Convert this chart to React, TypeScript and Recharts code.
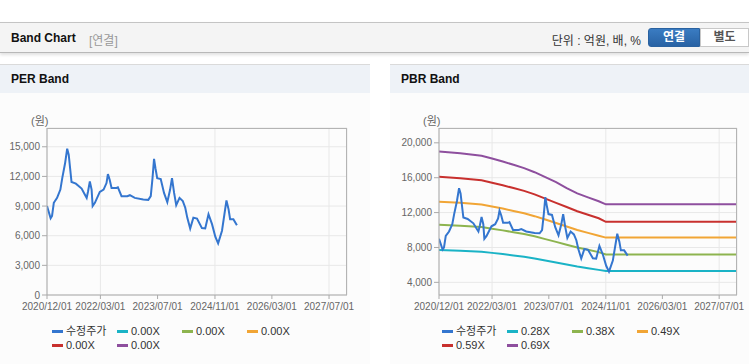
import { LineChart, Line, XAxis, YAxis, CartesianGrid } from "recharts";

// 수정주가 (price)
const priceDates = [
  "2020-12-01", "2021-01-01", "2021-01-13", "2021-01-28", "2021-02-25",
  "2021-03-25", "2021-04-10", "2021-05-04", "2021-05-22", "2021-06-04",
  "2021-06-28", "2021-08-04", "2021-09-22", "2021-10-19", "2021-11-04",
  "2021-11-16", "2021-12-01", "2021-12-16", "2021-12-25", "2022-01-13",
  "2022-02-24", "2022-03-28", "2022-04-22", "2022-05-04", "2022-05-19",
  "2022-06-04", "2022-07-16", "2022-07-28", "2022-08-28", "2022-10-16",
  "2022-11-07", "2022-12-19", "2023-03-01", "2023-04-13", "2023-05-04",
  "2023-05-19", "2023-06-01", "2023-06-13", "2023-06-28", "2023-07-28",
  "2023-08-25", "2023-09-22", "2023-10-16", "2023-11-01", "2023-11-19",
  "2023-12-07", "2024-01-04", "2024-02-01", "2024-02-22", "2024-03-10",
  "2024-04-04", "2024-05-01", "2024-06-01", "2024-07-13", "2024-08-10",
  "2024-09-07", "2024-10-07", "2024-11-04", "2024-11-28", "2024-12-31",
  "2025-02-07", "2025-02-25", "2025-03-10", "2025-04-07", "2025-05-07",
];
const prices = [
  9000, 7770, 8000, 9330, 9830, 10670, 11830, 13330, 14800, 14200,
  11430, 11270, 10770, 10170, 9830, 10500, 11500, 10670, 9000, 9330,
  10430, 10670, 11330, 12230, 11670, 10830, 10830, 10900, 10000, 10000,
  10100, 9830, 9670, 9630, 10000, 11830, 13770, 12830, 11830, 11730,
  10330, 9400, 10670, 11830, 10330, 9100, 9830, 9500, 8830, 7830,
  6730, 7830, 7730, 6770, 6730, 8170, 7170, 5900, 5230, 6500,
  9570, 8670, 7670, 7670, 7070,
];

// PBR bands
const bandDates = [
  "2020-12-01", "2021-06-01", "2021-12-01", "2022-03-01", "2022-06-01",
  "2022-09-01", "2022-12-01", "2023-03-01", "2023-06-01", "2023-09-01",
  "2023-12-01", "2024-03-01", "2024-06-01", "2024-09-01", "2024-11-01",
  "2027-12-01",
];
const pbr028 = [7700, 7620, 7510, 7380, 7240, 7080, 6930, 6740, 6510, 6280, 6040, 5810, 5620, 5430, 5300, 5300];
const pbr038 = [10600, 10490, 10340, 10150, 9960, 9750, 9540, 9280, 8960, 8640, 8320, 8000, 7740, 7470, 7190, 7190];
const pbr049 = [13250, 13120, 12920, 12690, 12460, 12190, 11930, 11590, 11200, 10800, 10400, 10000, 9670, 9340, 9130, 9130];
const pbr059 = [16100, 15940, 15700, 15420, 15130, 14810, 14490, 14090, 13600, 13120, 12640, 12160, 11750, 11350, 10940, 10940];
const pbr069 = [19000, 18800, 18520, 18200, 17860, 17480, 17100, 16630, 16060, 15490, 14800, 14200, 13750, 13300, 12950, 12950];

const xTickDates = ["2020-12-01", "2022-03-01", "2023-07-01", "2024-11-01", "2026-03-01", "2027-07-01"];
const xDomainDates = ["2020-12-01", "2027-12-01"];
const perTicks = [0, 3000, 6000, 9000, 12000, 15000];
const pbrTicks = [4000, 8000, 12000, 16000, 20000];

const perLegend = ["수정주가", "0.00X", "0.00X", "0.00X", "0.00X", "0.00X"];
const pbrLegend = ["수정주가", "0.28X", "0.38X", "0.49X", "0.59X", "0.69X"];
const colors = ["#3476cf", "#1ab3c6", "#8db44f", "#f1a535", "#c8302e", "#8e4f9e"];

const ts = (d: string) => Date.parse(d);
const priceData = priceDates.map((d, i) => ({ t: ts(d), v: prices[i] }));
const bands = [pbr028, pbr038, pbr049, pbr059, pbr069].map((arr) =>
  bandDates.map((d, i) => ({ t: ts(d), v: arr[i] }))
);

const fmtDate = (t: number) => {
  const d = new Date(t);
  const mm = String(d.getUTCMonth() + 1).padStart(2, "0");
  const dd = String(d.getUTCDate()).padStart(2, "0");
  return `${d.getUTCFullYear()}/${mm}/${dd}`;
};

const FONT = '"Liberation Sans", Arial, "Noto Sans CJK KR", sans-serif';
const TICK_FONT = '"Liberation Sans Narrow", "Liberation Sans", sans-serif';
const tickStyle = { fontSize: 10, fill: "#666", fontFamily: TICK_FONT };

interface BandProps {
  left: number;
  width: number;
  title: string;
  legend: string[];
  showBands: boolean;
  domain: [number, number];
  ticks: number[];
  marginLeft: number;
  marginRight: number;
}

function Legend({ labels, left }: { labels: string[]; left: number }) {
  return (
    <div
      style={{
        position: "absolute",
        left,
        top: 259,
        width: 262,
        display: "flex",
        flexWrap: "wrap",
        fontSize: 11,
        color: "#333",
        lineHeight: "14px",
      }}
    >
      {labels.map((l, i) => (
        <div key={i} style={{ width: 65, display: "flex", alignItems: "center" }}>
          <span style={{ width: 11, height: 3, background: colors[i], marginRight: 3 }} />
          <span>{l}</span>
        </div>
      ))}
    </div>
  );
}

function BandPanel(p: BandProps) {
  const plotLeft = p.marginLeft + 40;
  const plotRight = p.width - p.marginRight;
  return (
    <div
      style={{
        position: "absolute",
        left: p.left,
        top: 64,
        width: p.width,
        height: 299,
        background: "#fcfcfc",
        borderTop: "1px solid #dadada",
        borderBottom: "1px solid #d0d0d0",
      }}
    >
      <div
        style={{
          height: 28,
          background: "#eef2f7",
          fontWeight: "bold",
          fontSize: 12,
          lineHeight: "29px",
          paddingLeft: 11,
          color: "#111",
        }}
      >
        {p.title}
      </div>
      <div style={{ position: "absolute", left: plotLeft - 16, top: 47, fontSize: 11, color: "#666" }}>
        (원)
      </div>
      <div style={{ position: "absolute", left: 0, top: 28 }}>
        <LineChart
          width={p.width}
          height={227}
          margin={{ top: 35, right: p.marginRight, bottom: 0, left: p.marginLeft }}
        >
          <CartesianGrid stroke="#e8e8e8" />
          <XAxis
            dataKey="t"
            type="number"
            domain={xDomainDates.map(ts)}
            ticks={xTickDates.map(ts)}
            tickFormatter={fmtDate}
            tick={tickStyle}
            tickSize={4}
            tickMargin={4}
            height={25}
            stroke="#aaa"
            allowDataOverflow
          />
          <YAxis
            type="number"
            domain={p.domain}
            ticks={p.ticks}
            tickFormatter={(v: number) => v.toLocaleString("en-US")}
            tick={tickStyle}
            tickSize={5}
            tickMargin={2}
            width={40}
            stroke="#aaa"
            allowDataOverflow
          />
          {p.showBands &&
            bands.map((b, i) => (
              <Line
                key={i}
                data={b}
                dataKey="v"
                type="linear"
                stroke={colors[i + 1]}
                strokeWidth={2}
                dot={false}
                isAnimationActive={false}
              />
            ))}
          <Line
            data={priceData}
            dataKey="v"
            type="linear"
            stroke={colors[0]}
            strokeWidth={2}
            dot={false}
            isAnimationActive={false}
          />
        </LineChart>
      </div>
      <div
        style={{
          position: "absolute",
          left: plotLeft,
          top: 28 + 35,
          width: plotRight - plotLeft,
          height: 167,
          border: "1px solid #b4b4b4",
          boxSizing: "border-box",
          borderBottom: "none",
          borderLeft: "none",
          pointerEvents: "none",
        }}
      />
      <Legend labels={p.legend} left={52} />
    </div>
  );
}

export default function App() {
  return (
    <div style={{ position: "relative", width: 749, height: 364, background: "#fff", fontFamily: FONT, overflow: "hidden" }}>
      <style>{"body{margin:0}"}</style>
      <div
        style={{
          position: "absolute",
          left: 0,
          top: 22,
          width: 749,
          height: 29,
          background: "#f4f4f4",
          borderTop: "1px solid #c4c4c4",
          borderBottom: "1px solid #b8b8b8",
          boxShadow: "0 2px 3px rgba(0,0,0,0.12)",
        }}
      >
        <span style={{ position: "absolute", left: 11, top: 8, fontSize: 12, fontWeight: "bold", color: "#111" }}>
          Band Chart
        </span>
        <span style={{ position: "absolute", left: 89, top: 8, fontSize: 12, color: "#999" }}>[연결]</span>
        <span style={{ position: "absolute", right: 108, top: 8, fontSize: 12, color: "#333" }}>
          단위 : 억원, 배, %
        </span>
        <div
          style={{
            position: "absolute",
            left: 648,
            top: 5,
            width: 52,
            height: 19,
            boxSizing: "border-box",
            background: "linear-gradient(#3a7cc2, #2862a4)",
            border: "1px solid #2a62a0",
            borderRadius: "3px 0 0 3px",
            color: "#fff",
            fontWeight: "bold",
            fontSize: 12,
            textAlign: "center",
            lineHeight: "17px",
          }}
        >
          연결
        </div>
        <div
          style={{
            position: "absolute",
            left: 700,
            top: 5,
            width: 49,
            height: 19,
            boxSizing: "border-box",
            background: "#fff",
            border: "1px solid #c8c8c8",
            color: "#555",
            fontWeight: "bold",
            fontSize: 12,
            textAlign: "center",
            lineHeight: "17px",
          }}
        >
          별도
        </div>
      </div>
      <BandPanel
        left={0}
        width={370}
        title="PER Band"
        legend={perLegend}
        showBands={false}
        domain={[0, 16900]}
        ticks={perTicks}
        marginLeft={7}
        marginRight={23}
      />
      <BandPanel
        left={390}
        width={359}
        title="PBR Band"
        legend={pbrLegend}
        showBands={true}
        domain={[2550, 21700]}
        ticks={pbrTicks}
        marginLeft={9}
        marginRight={12}
      />
    </div>
  );
}
